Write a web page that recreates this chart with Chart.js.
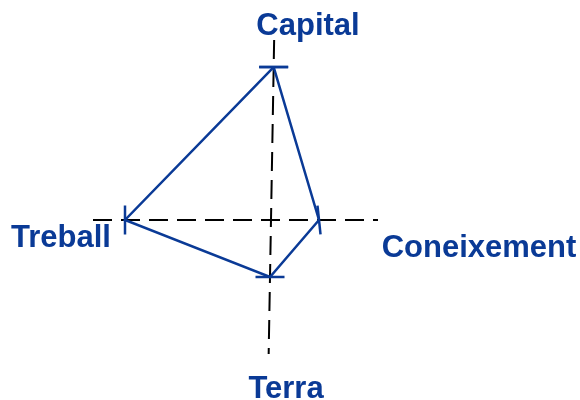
<!DOCTYPE html>
<html>
<head>
<meta charset="utf-8">
<script src="https://cdn.jsdelivr.net/npm/chart.js@4"></script>
<style>
  html, body { margin: 0; padding: 0; background: #fff; }
  #wrap { width: 580px; height: 400px; }
</style>
</head>
<body>
<div id="wrap"><canvas id="grafic" width="580" height="400"></canvas></div>
<script>
// Eixos del diagrama (en sentit horari des de dalt)
const factors = ["Capital", "Coneixement", "Terra", "Treball"];
// Angle de cada eix, en graus
const angles = [89, 0, 269, 180];
// Llargada de cada eix discontinu
const llargEixos = [180, 107, 134, 178];
// Valor de cada factor sobre el seu eix
const valors = [153, 48, 57, 146];
// Inclinació de la marca de cada punt
const inclinacions = [0, 84, 0, 90];

const BLAU = "#0a3a96";

function punt(i, r) {
  const a = angles[i] * Math.PI / 180;
  return { x: Math.cos(a) * r, y: Math.sin(a) * r };
}

// Polígon tancat
const poligon = valors.map((v, i) => punt(i, v));
poligon.push(poligon[0]);
const rotacions = inclinacions.concat([inclinacions[0]]);

// Eixos discontinus: vertical (Capital-Terra) i horitzontal (Treball-Coneixement)
const eixVertical = [punt(0, llargEixos[0]), punt(2, llargEixos[2])];
const eixHoritzontal = [punt(3, llargEixos[3]), punt(1, llargEixos[1])];

// Posició de cada etiqueta (centre, línia base)
const posEtiquetes = [
  { x: 37, y: 185 },
  { x: 208, y: -37 },
  { x: 15, y: -178 },
  { x: -210, y: -27 }
];

const etiquetesPlugin = {
  id: "etiquetes",
  afterDatasetsDraw(chart) {
    const { ctx, scales } = chart;
    ctx.save();
    ctx.fillStyle = BLAU;
    ctx.font = "bold 31px 'Liberation Sans', Arial, sans-serif";
    ctx.textAlign = "center";
    ctx.textBaseline = "alphabetic";
    factors.forEach((nom, i) => {
      const p = posEtiquetes[i];
      ctx.fillText(nom, scales.x.getPixelForValue(p.x), scales.y.getPixelForValue(p.y));
    });
    ctx.restore();
  }
};

const eixEstil = {
  showLine: true,
  borderColor: "#000",
  borderWidth: 2,
  borderDash: [19, 9],
  pointRadius: 0,
  fill: false,
  order: 2
};

new Chart(document.getElementById("grafic"), {
  type: "scatter",
  data: {
    datasets: [
      {
        label: "Factors",
        data: poligon,
        showLine: true,
        borderColor: BLAU,
        borderWidth: 2.5,
        pointStyle: "line",
        pointRadius: 14.5,
        pointBorderWidth: 2.5,
        pointBorderColor: BLAU,
        pointRotation: rotacions,
        fill: false,
        order: 0
      },
      Object.assign({ label: "Eix vertical", data: eixVertical }, eixEstil),
      Object.assign({ label: "Eix horitzontal", data: eixHoritzontal }, eixEstil)
    ]
  },
  options: {
    responsive: false,
    animation: false,
    layout: { padding: 0, autoPadding: false },
    plugins: {
      legend: { display: false },
      tooltip: { enabled: false }
    },
    scales: {
      x: { type: "linear", min: -271, max: 309, display: false },
      y: { type: "linear", min: -180, max: 220, display: false }
    }
  },
  plugins: [etiquetesPlugin]
});
</script>
</body>
</html>
